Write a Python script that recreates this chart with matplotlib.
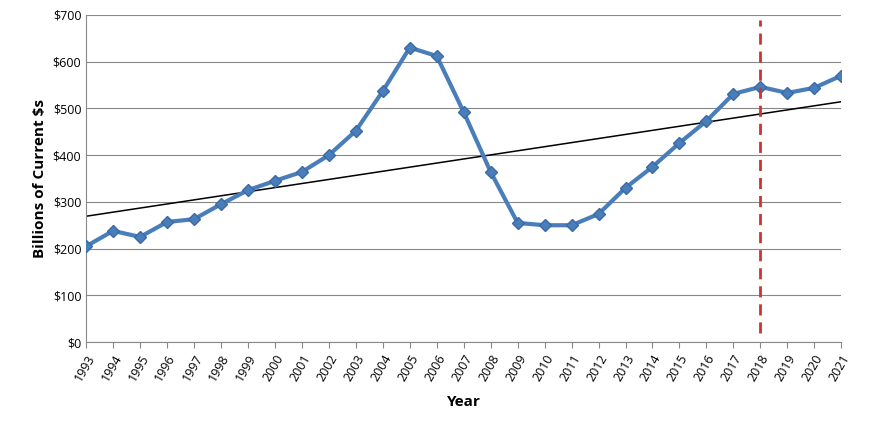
import matplotlib
matplotlib.use("Agg")
import matplotlib.pyplot as plt
import numpy as np

years = list(range(1993, 2022))
values = [205, 238, 225, 257, 263, 295, 325, 345, 364, 400, 452, 537, 630, 612, 492,
          364, 255, 250, 250, 274, 330, 375, 426, 473, 531, 546, 533, 544, 570]
y_ticks = [0, 100, 200, 300, 400, 500, 600, 700]
marker_year = 2018

plt.rcParams["font.family"] = "Open Sans"
fig = plt.figure(figsize=(8.7, 4.25), dpi=100)
ax = fig.add_axes([0.099, 0.195, 0.868, 0.77])

x = np.array(years)
coef = np.polyfit(x, values, 1)
ax.plot([x[0], x[-1]], np.polyval(coef, [x[0], x[-1]]), color="black", lw=1.1, zorder=2)
ax.plot(x, values, color="#4a7ebb", lw=3, marker="D", ms=6.5,
        markerfacecolor="#4a7ebb", markeredgecolor="#3a6aa5", zorder=3)
ax.plot([marker_year, marker_year], [20, 690], color="#cc3333", lw=2, ls=(0, (4, 2.5)), zorder=4)

ax.set_xlim(1993, 2021)
ax.set_ylim(0, 700)
ax.set_yticks(y_ticks)
ax.set_yticklabels([f"${v}" for v in y_ticks], fontsize=9)
ax.set_xticks(years)
ax.set_xticklabels([str(y) for y in years], rotation=60, fontsize=9, ha="right", rotation_mode="anchor")
ax.grid(axis="y", color="#888888", lw=0.8)
ax.set_axisbelow(True)
for s in ["top", "right"]:
    ax.spines[s].set_visible(False)
ax.spines["left"].set_color("#888888")
ax.spines["bottom"].set_color("#888888")
ax.tick_params(axis="x", length=4, color="#888888")
ax.tick_params(axis="y", length=0)
ax.set_ylabel("Billions of Current $s", fontsize=11, fontweight="bold")
ax.set_xlabel("Year", fontsize=11, fontweight="bold", labelpad=8)
fig.savefig("out.png", dpi=100)
